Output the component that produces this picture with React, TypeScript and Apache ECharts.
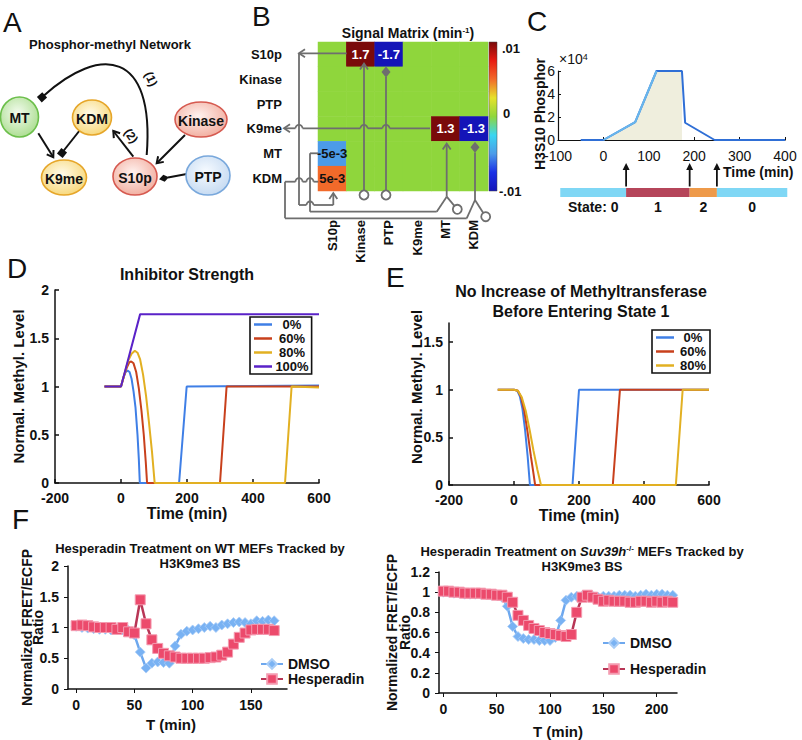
import React, { useEffect, useRef } from 'react';
import * as echarts from 'echarts';

const FONT = '"Liberation Sans", Arial, Helvetica, sans-serif';
const INK = '#111111';
const GREY = '#6e6e6e';

// ---------------- Panel B : signal matrix ----------------
const matrixNames = ['S10p', 'Kinase', 'PTP', 'K9me', 'MT', 'KDM'];
const signalMatrix = [
  [0, 1.7, -1.7, 0, 0, 0],
  [0, 0, 0, 0, 0, 0],
  [0, 0, 0, 0, 0, 0],
  [0, 0, 0, 0, 1.3, -1.3],
  [-5e-3, 0, 0, 0, 0, 0],
  [5e-3, 0, 0, 0, 0, 0],
];
const signalLimit = 0.01;
const colorbarTicks = ['.01', '0', '-.01'];

// ---------------- Panel C : H3S10 phosphorylation ----------------
const phosTime = [-50, 0, 70, 117, 173, 180, 245, 400];
const phosLevel = [0, 0, 1.55, 6, 6, 1.5, 0, 0];
const phosShadeEnd = 173;
const stateNames = ['State: 0', '1', '2', '0'];
const stateStart = [-95, 50, 190, 250];
const stateEnd = [50, 190, 250, 405];
const stateCode = [0, 1, 2, 0];

// ---------------- Panel D : inhibitor strength ----------------
const dNames = ['0%', '60%', '80%', '100%'];
const dTime0 = [-50, 0, 8, 14, 20, 26, 32, 38, 44, 50, 54, 57, 176, 199, 600];
const dLevel0 = [1, 1, 1.1, 1.15, 1.165, 1.15, 1.08, 0.95, 0.78, 0.5, 0.25, 0, 0, 1, 1.01];
const dTime60 = [-50, 0, 10, 18, 25, 31, 38, 46, 54, 62, 69, 75, 79, 300, 320, 600];
const dLevel60 = [1, 1, 1.12, 1.2, 1.25, 1.26, 1.24, 1.15, 0.98, 0.75, 0.5, 0.22, 0, 0, 1, 1];
const dTime80 = [-50, 0, 12, 22, 32, 42, 50, 58, 67, 76, 85, 94, 102, 497, 517, 600];
const dLevel80 = [1, 1, 1.15, 1.27, 1.34, 1.37, 1.35, 1.28, 1.12, 0.9, 0.62, 0.32, 0, 0, 1, 0.99];
const dTime100 = [-50, 0, 58, 600];
const dLevel100 = [1, 1, 1.75, 1.75];

// ---------------- Panel E : no MT increase ----------------
const eNames = ['0%', '60%', '80%'];
const eTime0 = [-50, 0, 10, 18, 26, 34, 42, 49, 180, 200, 600];
const eLevel0 = [1, 1, 0.99, 0.93, 0.8, 0.58, 0.3, 0, 0, 1, 1];
const eTime60 = [-50, 0, 12, 22, 32, 42, 52, 60, 65, 304, 326, 600];
const eLevel60 = [1, 1, 0.99, 0.92, 0.77, 0.55, 0.3, 0.12, 0, 0, 1, 1];
const eTime80 = [-50, 0, 12, 24, 36, 48, 60, 72, 83, 498, 519, 600];
const eLevel80 = [1, 1, 0.99, 0.92, 0.78, 0.58, 0.36, 0.16, 0, 0, 1, 1];

// ---------------- Panel F : Hesperadin experiments ----------------
const fTimeWT = [0, 5, 10, 15, 20, 25, 30, 35, 40, 45, 50, 55, 60, 65, 70, 75, 80, 85, 90, 95, 100, 105, 110, 115, 120, 125, 130, 135, 140, 145, 150, 155, 160, 165, 170];
const dmsoWT = [1.02, 1.0, 0.99, 0.98, 0.97, 0.97, 0.96, 0.97, 0.96, 0.95, 0.88, 0.6, 0.34, 0.42, 0.44, 0.43, 0.42, 0.7, 0.89, 0.94, 0.96, 0.98, 1.0, 1.02, 1.0, 1.04, 1.06, 1.08, 1.09, 1.08, 1.06, 1.11, 1.1, 1.12, 1.11];
const hespWT = [1.03, 1.04, 1.03, 1.01, 1.0, 1.0, 1.0, 0.97, 1.0, 0.93, 0.91, 1.45, 1.06, 0.8, 0.66, 0.58, 0.54, 0.52, 0.5, 0.5, 0.5, 0.5, 0.5, 0.51, 0.52, 0.55, 0.6, 0.73, 0.84, 0.91, 0.96, 0.97, 0.97, 0.97, 0.95];
const fTimeSuv = [0, 5, 10, 15, 20, 25, 30, 35, 40, 45, 50, 55, 60, 65, 70, 75, 80, 85, 90, 95, 100, 105, 110, 115, 120, 125, 130, 135, 140, 145, 150, 155, 160, 165, 170, 175, 180, 185, 190, 195, 200, 205, 210, 215];
const dmsoSuv = [1.0, 1.0, 0.99, 0.99, 0.98, 0.98, 0.98, 0.98, 0.98, 0.97, 0.97, 0.95, 0.86, 0.66, 0.56, 0.54, 0.53, 0.53, 0.52, 0.52, 0.52, 0.55, 0.72, 0.92, 0.95, 0.96, 0.96, 0.96, 0.96, 0.95, 0.96, 0.96, 0.96, 0.97, 0.97, 0.97, 0.96, 0.97, 0.98, 0.97, 0.98, 0.98, 0.97, 0.97];
const hespSuv = [1.01, 1.01, 1.0, 1.0, 0.99, 0.99, 0.99, 0.99, 0.98, 0.98, 0.97, 0.97, 0.95, 0.9, 0.77, 0.72, 0.67, 0.64, 0.62, 0.6, 0.59, 0.58, 0.57, 0.56, 0.58, 0.8, 0.95, 0.97, 0.95, 0.93, 0.91, 0.92, 0.91, 0.91, 0.91, 0.9, 0.9, 0.91, 0.91, 0.9, 0.91, 0.9, 0.91, 0.9];
const fNames = ['DMSO', 'Hesperadin'];

// ---------------- styling constants ----------------
const heatColors = ['#1414b8', '#1a30e6', '#4c9be8', '#39d6f2', '#8fd63c', '#e6e22a', '#f26a2a', '#e81c12', '#7a0a0a'];
const stateColors = ['#7fd7f5', '#b5455a', '#ee9a4a'];
const dColors = ['#3f7fe6', '#c8401c', '#e2b022', '#5a22c8'];

type Pt = [number, number];
const pairs = (xs: number[], ys: number[]): Pt[] => xs.map((x, i) => [x, ys[i]] as Pt);

// ---------- drawing helpers for the diagram panels ----------
const unit = (a: Pt, b: Pt): Pt => {
  const dx = b[0] - a[0];
  const dy = b[1] - a[1];
  const l = Math.hypot(dx, dy) || 1;
  return [dx / l, dy / l];
};
const gl = (x1: number, y1: number, x2: number, y2: number, stroke = GREY, lw = 1.8) => ({
  type: 'line', z: 50, shape: { x1, y1, x2, y2 }, style: { stroke, lineWidth: lw },
});
const chevron = (tip: Pt, d: Pt, stroke: string, lw: number, len = 6, half = 4) => {
  const p: Pt = [-d[1], d[0]];
  return {
    type: 'polyline', z: 51,
    shape: { points: [[tip[0] - len * d[0] + half * p[0], tip[1] - len * d[1] + half * p[1]], tip, [tip[0] - len * d[0] - half * p[0], tip[1] - len * d[1] - half * p[1]]] },
    style: { stroke, lineWidth: lw, fill: null },
  };
};
const diamond = (c: Pt, d: Pt, fill: string, len = 5.5, half = 4.5) => {
  const p: Pt = [-d[1], d[0]];
  return {
    type: 'polygon', z: 51,
    shape: { points: [[c[0] + len * d[0], c[1] + len * d[1]], [c[0] + half * p[0], c[1] + half * p[1]], [c[0] - len * d[0], c[1] - len * d[1]], [c[0] - half * p[0], c[1] - half * p[1]]] },
    style: { fill },
  };
};
const square = (c: Pt, d: Pt, fill: string, s = 3.6) => {
  const p: Pt = [-d[1], d[0]];
  return {
    type: 'polygon', z: 51,
    shape: { points: [[c[0] + s * d[0] + s * p[0], c[1] + s * d[1] + s * p[1]], [c[0] + s * d[0] - s * p[0], c[1] + s * d[1] - s * p[1]], [c[0] - s * d[0] - s * p[0], c[1] - s * d[1] - s * p[1]], [c[0] - s * d[0] + s * p[0], c[1] - s * d[1] + s * p[1]]] },
    style: { fill },
  };
};
const hopLine = (xa: number, xb: number, y: number, hops: number[], r = 3.5) => {
  const lo = Math.min(xa, xb);
  const hi = Math.max(xa, xb);
  const hs = hops.filter((h) => h > lo && h < hi).sort((a, b) => a - b);
  const els: any[] = [];
  let cur = lo;
  hs.forEach((h) => {
    els.push(gl(cur, y, h - r, y));
    els.push({ type: 'arc', z: 50, shape: { cx: h, cy: y, r, startAngle: Math.PI, endAngle: 2 * Math.PI, clockwise: true }, style: { stroke: GREY, lineWidth: 1.8, fill: null } });
    cur = h + r;
  });
  els.push(gl(cur, y, hi, y));
  return els;
};
const ring = (cx: number, cy: number, r = 4.5) => ({
  type: 'circle', z: 51, shape: { cx, cy, r }, style: { stroke: GREY, lineWidth: 1.8, fill: '#ffffff' },
});
const txt = (text: string, x: number, y: number, font: string, align = 'left', vAlign = 'middle', extra: any = {}) => ({
  type: 'text', z: 60, style: { text, x, y, font, fill: INK, align, verticalAlign: vAlign, ...extra },
});

function panelAGraphics(): any[] {
  const tones: Record<string, { stroke: string; inner: string; outer: string }> = {
    green: { stroke: '#6cbf4b', inner: '#f3fbee', outer: '#a3da85' },
    amber: { stroke: '#e6a62a', inner: '#fffbea', outer: '#f6d36c' },
    red: { stroke: '#d65a50', inner: '#fff2ef', outer: '#f0a595' },
    blue: { stroke: '#79a8dc', inner: '#f7fbff', outer: '#bfd6f0' },
  };
  const nodes = [
    { label: 'MT', cx: 19.5, cy: 117, rx: 19, ry: 20, tone: 'green' },
    { label: 'KDM', cx: 92, cy: 117.5, rx: 19.5, ry: 17.5, tone: 'amber' },
    { label: 'K9me', cx: 64, cy: 177.5, rx: 22.5, ry: 17.5, tone: 'amber' },
    { label: 'S10p', cx: 135, cy: 176.5, rx: 22, ry: 18.5, tone: 'red' },
    { label: 'Kinase', cx: 201, cy: 119.5, rx: 26, ry: 17.5, tone: 'red' },
    { label: 'PTP', cx: 208, cy: 175.5, rx: 22, ry: 19.5, tone: 'blue' },
  ];
  const els: any[] = [];
  nodes.forEach((n) => {
    const t = tones[n.tone];
    els.push({
      type: 'ellipse', z: 52, shape: { cx: n.cx, cy: n.cy, rx: n.rx, ry: n.ry },
      style: {
        fill: new echarts.graphic.RadialGradient(0.45, 0.4, 0.7, [{ offset: 0, color: t.inner }, { offset: 1, color: t.outer }]),
        stroke: t.stroke, lineWidth: 1.6,
      },
    });
    els.push({ ...txt(n.label, n.cx, n.cy + 1, `bold 14px ${FONT}`, 'center'), z: 53 });
  });
  const K = '#111111';
  const arrow = (a: Pt, b: Pt) => [gl(a[0], a[1], b[0], b[1], K, 2), chevron(b, unit(a, b), K, 2, 6, 4)];
  els.push(...arrow([38.3, 133.3], [53.3, 157.3]));
  els.push(...arrow([133.3, 156.7], [113.3, 131]));
  els.push(...arrow([185, 135], [156.7, 163.3]));
  els.push(gl(80, 130, 63, 151.5, K, 2), square([62, 153], unit([80, 130], [62, 153]), K));
  els.push(gl(186.7, 174, 168, 177.5, K, 2), diamond([164, 178.3], unit([186.7, 174], [164, 178.3]), K, 5, 3.6));
  const c = { x1: 146.7, y1: 155, cpx1: 155, cpy1: 50, cpx2: 100, cpy2: 45, x2: 44, y2: 95.5 };
  els.push({ type: 'bezierCurve', z: 50, shape: c, style: { stroke: K, lineWidth: 2, fill: null } });
  els.push(square([42, 97.3], unit([c.cpx2, c.cpy2], [c.x2, c.y2]), K));
  els.push({ type: 'text', z: 60, x: 151, y: 79, rotation: -1.15, style: { text: '(1)', x: 0, y: 0, font: `bold 12px ${FONT}`, fill: K, align: 'center', verticalAlign: 'middle' } });
  els.push({ type: 'text', z: 60, x: 131, y: 136, rotation: -0.95, style: { text: '(2)', x: 0, y: 0, font: `bold 12px ${FONT}`, fill: K, align: 'center', verticalAlign: 'middle' } });
  return els;
}

function panelBGraphics(): any[] {
  const els: any[] = [];
  const up: Pt = [0, -1];
  const left: Pt = [-1, 0];
  // S10p row output -> S10p column input
  els.push(gl(346.7, 53.3, 299, 53.3), chevron([299, 53.3], left, GREY, 1.8));
  els.push(gl(299, 53.3, 299, 205));
  els.push(...hopLine(299, 333.3, 205, [310]));
  els.push(gl(333.3, 205, 333.3, 193.5), chevron([333.3, 193], up, GREY, 1.8));
  // MT row output -> MT column
  els.push(gl(318.3, 153.3, 310, 153.3), gl(310, 153.3, 310, 211.7), gl(310, 211.7, 436.7, 211.7), gl(436.7, 211.7, 446.7, 196.7));
  // KDM row output -> KDM column
  els.push(...hopLine(318.3, 285, 181.7, [310, 299]));
  els.push(gl(285, 181.7, 285, 218.3), gl(285, 218.3, 466.7, 218.3), gl(466.7, 218.3, 475, 200));
  // K9me row output
  els.push(...hopLine(430, 285, 128.3, [299, 364, 386]));
  els.push(chevron([284, 128.3], left, GREY, 1.8));
  // Kinase column
  els.push(ring(364, 195), gl(364, 190.5, 364, 64), chevron([364, 63.5], up, GREY, 1.8));
  // PTP column
  els.push(ring(386, 195), gl(386, 190.5, 386, 77), diamond([386, 72], up, GREY));
  // MT column
  els.push(gl(446.7, 196.7, 446.7, 144), chevron([446.7, 143.5], up, GREY, 1.8));
  els.push(gl(446.7, 196.7, 454.4, 205.9), ring(457.3, 209.3));
  // KDM column
  els.push(gl(475, 200, 475, 152.5), diamond([475, 147.2], up, GREY));
  els.push(gl(475, 200, 483.3, 212.9), ring(485.7, 216.7));
  // colour bar
  const stops = heatColors.map((col, i) => ({ offset: 1 - i / (heatColors.length - 1), color: col }));
  els.push({ type: 'rect', z: 40, shape: { x: 489, y: 42, width: 8, height: 149 }, style: { fill: new echarts.graphic.LinearGradient(0, 0, 0, 1, stops.reverse()), stroke: '#444', lineWidth: 0.5 } });
  els.push(txt(colorbarTicks[0], 502, 48, `bold 13px ${FONT}`));
  els.push(txt(colorbarTicks[1], 503, 113, `bold 13px ${FONT}`));
  els.push(txt(colorbarTicks[2], 499, 191, `bold 13px ${FONT}`));
  return els;
}

function buildOption(): any {
  const labelFmt = (v: number) => (v === 0 ? '' : Math.abs(v) >= 0.1 ? String(v) : v.toExponential(0));
  const heatData: any[] = [];
  signalMatrix.forEach((row, r) => row.forEach((v, c) => {
    heatData.push({
      value: [c, r, Math.max(-signalLimit, Math.min(signalLimit, v)), v],
      label: { color: Math.abs(v) >= 0.1 ? '#ffffff' : '#111111' },
    });
  }));

  const phosPts = pairs(phosTime, phosLevel);
  const shadePts = phosPts.filter((p) => p[0] >= 0 && p[0] <= phosShadeEnd);
  const peakIdx = phosLevel.indexOf(Math.max(...phosLevel));
  const risePts = phosPts.slice(1, peakIdx + 1);

  const boldTick = { fontSize: 14, fontWeight: 'bold', color: INK, fontFamily: FONT };
  const blackLine = (w = 1.5) => ({ show: true, onZero: false, lineStyle: { color: INK, width: w } });
  const nameStyle = (size: number, extra: any = {}) => ({ fontSize: size, fontWeight: 'bold', color: INK, fontFamily: FONT, ...extra });
  const titleStyle = (size: number, lh?: number) => ({ fontSize: size, fontWeight: 'bold', color: INK, fontFamily: FONT, lineHeight: lh });
  const sup = { fontSize: 8, fontWeight: 'bold', color: INK, fontFamily: FONT, verticalAlign: 'top', lineHeight: 10 };
  const nm = { nameLocation: 'middle', nameMoveOverlap: false };

  const dData = [pairs(dTime0, dLevel0), pairs(dTime60, dLevel60), pairs(dTime80, dLevel80), pairs(dTime100, dLevel100)];
  const eData = [pairs(eTime0, eLevel0), pairs(eTime60, eLevel60), pairs(eTime80, eLevel80)];

  const lineLegend = (names: string[], left: number, top: number, textW: number) => ({
    data: names, left, top, orient: 'vertical', icon: 'rect', itemWidth: 18, itemHeight: 2.5, itemGap: 1,
    padding: [1, 3, 1, 4], borderColor: INK, borderWidth: 1.6, backgroundColor: '#ffffff', selectedMode: false,
    formatter: (n: string) => `{a|${n}}`,
    textStyle: { rich: { a: { width: textW, align: 'center', fontSize: 13, fontWeight: 'bold', color: INK, fontFamily: FONT, lineHeight: 15 } } },
  });
  const markerLegend = (left: number, top: number, gap: number) => ({
    data: fNames, left, top, orient: 'vertical', itemWidth: 22, itemHeight: 12, itemGap: gap, selectedMode: false,
    textStyle: { fontSize: 14, fontWeight: 'bold', color: INK, fontFamily: FONT, lineHeight: 14 },
  });

  const fLine = (name: string, x: number, times: number[], vals: number[]) => name === 'DMSO'
    ? { type: 'line', name, xAxisIndex: x, yAxisIndex: x, data: pairs(times, vals), symbol: 'diamond', symbolSize: 10, lineStyle: { color: '#6ea8ee', width: 2.5 }, itemStyle: { color: '#79b2f3', borderColor: '#a9cdf7', borderWidth: 0.8 }, z: 3 }
    : { type: 'line', name, xAxisIndex: x, yAxisIndex: x, data: pairs(times, vals), symbol: 'rect', symbolSize: 10, lineStyle: { color: '#b83656', width: 2.5 }, itemStyle: { color: '#ec4a6c', borderColor: '#f49bb0', borderWidth: 1 }, z: 4 };

  return {
    animation: false,
    backgroundColor: '#ffffff',
    textStyle: { fontFamily: FONT },
    title: [
      { text: 'Phosphor-methyl Network', left: 110, top: 38, textAlign: 'center', padding: 0, textStyle: titleStyle(13) },
      { text: 'Signal Matrix (min{s|-1})', left: 408, top: 26, textAlign: 'center', padding: 0, textStyle: { ...titleStyle(14), rich: { s: sup } } },
      { text: 'Inhibitor Strength', left: 187, top: 266, textAlign: 'center', padding: 0, textStyle: titleStyle(16) },
      { text: 'No Increase of Methyltransferase\nBefore Entering State 1', left: 581, top: 281, textAlign: 'center', padding: 0, textStyle: titleStyle(16, 20) },
      { text: 'Hesperadin Treatment on WT MEFs Tracked by\nH3K9me3 BS', left: 200, top: 541, textAlign: 'center', padding: 0, textStyle: titleStyle(13, 15) },
      {
        text: 'Hesperadin Treatment on {i|Suv39h}{s|-/-} MEFs Tracked by\nH3K9me3 BS', left: 582, top: 544, textAlign: 'center', padding: 0,
        textStyle: { ...titleStyle(13, 15), rich: { i: { fontSize: 13, fontWeight: 'bold', fontStyle: 'italic', color: INK, fontFamily: FONT, lineHeight: 15 }, s: sup } },
      },
    ],
    legend: [
      lineLegend(dNames, 250, 317, 30),
      lineLegend(eNames, 652, 330, 28),
      markerLegend(255, 652, 1),
      markerLegend(597, 631, 12),
    ],
    grid: [
      { left: 558, top: 71, width: 227, height: 69 },
      { left: 558, top: 188, width: 227, height: 9 },
      { left: 318, top: 42, width: 170, height: 149 },
      { left: 55, top: 290, width: 264, height: 193 },
      { left: 449, top: 323, width: 260, height: 162 },
      { left: 68, top: 566, width: 219, height: 123 },
      { left: 439, top: 572, width: 238, height: 121 },
    ],
    xAxis: [
      { gridIndex: 0, type: 'value', min: -100, max: 400, interval: 100, axisLine: blackLine(1.2), axisTick: { inside: true, length: 3, lineStyle: { color: INK } }, axisLabel: { fontSize: 14, color: INK, margin: 9 }, splitLine: { show: false } },
      { gridIndex: 1, type: 'value', min: -100, max: 400, show: false },
      { gridIndex: 2, type: 'category', data: matrixNames, axisLine: { show: false }, axisTick: { show: false }, axisLabel: { rotate: 90, margin: 29, fontSize: 13, fontWeight: 'bold', color: INK }, splitLine: { show: false } },
      { gridIndex: 3, type: 'value', min: -200, max: 600, interval: 200, name: 'Time (min)', ...nm, nameGap: 22, nameTextStyle: nameStyle(16), axisLine: blackLine(), axisTick: { inside: true, length: 4, lineStyle: { color: INK, width: 1.5 } }, axisLabel: { ...boldTick, margin: 8 }, splitLine: { show: false } },
      { gridIndex: 4, type: 'value', min: -200, max: 600, interval: 200, name: 'Time (min)', ...nm, nameGap: 22, nameTextStyle: nameStyle(16), axisLine: blackLine(), axisTick: { inside: true, length: 4, lineStyle: { color: INK, width: 1.5 } }, axisLabel: { ...boldTick, margin: 8 }, splitLine: { show: false } },
      { gridIndex: 5, type: 'value', min: -7, max: 181, name: 'T (min)', ...nm, nameGap: 28, nameTextStyle: nameStyle(15, { padding: [0, 13, 0, 0] }), axisLine: blackLine(1.5), axisTick: { length: 4, customValues: [0, 50, 100, 150], lineStyle: { color: INK } }, axisLabel: { ...boldTick, margin: 9, customValues: [0, 50, 100, 150] }, splitLine: { show: false } },
      { gridIndex: 6, type: 'value', min: -4, max: 219, name: 'T (min)', ...nm, nameGap: 31, nameTextStyle: nameStyle(15), axisLine: blackLine(1.5), axisTick: { length: 4, customValues: [0, 50, 100, 150, 200], lineStyle: { color: INK } }, axisLabel: { ...boldTick, margin: 9, customValues: [0, 50, 100, 150, 200] }, splitLine: { show: false } },
    ],
    yAxis: [
      { gridIndex: 0, type: 'value', min: 0, max: 6, interval: 2, name: 'H3S10 Phosphor', ...nm, nameGap: 11, nameRotate: 90, nameTextStyle: nameStyle(14, { padding: [0, 17, 0, 0] }), axisLine: blackLine(1.2), axisTick: { inside: true, length: 3, lineStyle: { color: INK } }, axisLabel: { fontSize: 14, color: INK, margin: 3 }, splitLine: { show: false } },
      { gridIndex: 1, type: 'value', min: 0, max: 1, show: false },
      { gridIndex: 2, type: 'category', data: matrixNames, inverse: true, axisLine: { show: false }, axisTick: { show: false }, axisLabel: { margin: 36, fontSize: 13, fontWeight: 'bold', color: INK }, splitLine: { show: false } },
      { gridIndex: 3, type: 'value', min: 0, max: 2, interval: 0.5, name: 'Normal. Methyl. Level', ...nm, nameGap: 29, nameRotate: 90, nameTextStyle: nameStyle(15), axisLine: blackLine(), axisTick: { inside: true, length: 4, lineStyle: { color: INK, width: 1.5 } }, axisLabel: { ...boldTick, margin: 6 }, splitLine: { show: false } },
      { gridIndex: 4, type: 'value', min: 0, max: 1.7, name: 'Normal. Methyl. Level', ...nm, nameGap: 25, nameRotate: 90, nameTextStyle: nameStyle(15, { padding: [0, 0, 0, 34] }), axisLine: blackLine(), axisTick: { inside: true, length: 4, customValues: [0, 0.5, 1, 1.5], lineStyle: { color: INK, width: 1.5 } }, axisLabel: { ...boldTick, margin: 6, customValues: [0, 0.5, 1, 1.5] }, splitLine: { show: false } },
      { gridIndex: 5, type: 'value', min: 0, max: 2, interval: 0.5, name: 'Normalized FRET/ECFP\nRatio', ...nm, nameGap: 25, nameRotate: 90, nameTextStyle: nameStyle(14, { lineHeight: 11 }), axisLine: blackLine(1.5), axisTick: { length: 4, lineStyle: { color: INK } }, axisLabel: { ...boldTick, margin: 9 }, splitLine: { show: false } },
      { gridIndex: 6, type: 'value', min: 0, max: 1.2, interval: 0.2, name: 'Normalized FRET/ECFP\nRatio', ...nm, nameGap: 28, nameRotate: 90, nameTextStyle: nameStyle(14, { lineHeight: 13 }), axisLine: blackLine(1.5), axisTick: { length: 4, lineStyle: { color: INK } }, axisLabel: { ...boldTick, margin: 9 }, splitLine: { show: false } },
    ],
    visualMap: { show: false, type: 'continuous', min: -signalLimit, max: signalLimit, dimension: 2, seriesIndex: 4, inRange: { color: heatColors } },
    series: [
      { type: 'line', name: 'phosShade', xAxisIndex: 0, yAxisIndex: 0, data: shadePts, symbol: 'none', lineStyle: { width: 0, opacity: 0 }, areaStyle: { color: '#efeedd', opacity: 1 }, z: 1, silent: true },
      { type: 'line', name: 'phos', xAxisIndex: 0, yAxisIndex: 0, data: phosPts, symbol: 'none', lineStyle: { color: '#2f6fd6', width: 2 }, z: 3, silent: true },
      { type: 'line', name: 'phosRise', xAxisIndex: 0, yAxisIndex: 0, data: risePts, symbol: 'none', lineStyle: { color: '#68b6ec', width: 2 }, z: 4, silent: true },
      {
        type: 'custom', name: 'states', xAxisIndex: 1, yAxisIndex: 1, clip: false, silent: true,
        data: stateStart.map((s, i) => [s, stateEnd[i], stateCode[i]]),
        renderItem: (params: any, api: any) => {
          const i = params.dataIndex;
          const a = api.coord([api.value(0), 1]);
          const b = api.coord([api.value(1), 0]);
          const kids: any[] = [
            { type: 'rect', shape: { x: a[0], y: a[1], width: b[0] - a[0], height: b[1] - a[1] }, style: { fill: stateColors[api.value(2)] } },
            { type: 'text', style: { text: stateNames[i], x: (a[0] + b[0]) / 2, y: b[1] + 10, align: 'center', verticalAlign: 'middle', fontSize: 14, fontWeight: 'bold', fontFamily: FONT, fill: INK } },
          ];
          if (i > 0) {
            const x = a[0];
            const tip = a[1] - 25;
            kids.push({ type: 'line', shape: { x1: x, y1: a[1] - 1.5, x2: x, y2: tip + 5 }, style: { stroke: INK, lineWidth: 1.8 } });
            kids.push({ type: 'polygon', shape: { points: [[x, tip], [x - 3.5, tip + 7], [x + 3.5, tip + 7]] }, style: { fill: INK } });
          }
          return { type: 'group', children: kids };
        },
      },
      {
        type: 'heatmap', name: 'signal', xAxisIndex: 2, yAxisIndex: 2, data: heatData, silent: true,
        label: { show: true, formatter: (p: any) => labelFmt(p.value[3]), fontSize: 13, fontWeight: 'bold', fontFamily: FONT },
        itemStyle: { borderWidth: 0 }, emphasis: { disabled: true },
      },
      ...dData.map((d, i) => ({ type: 'line', name: dNames[i], xAxisIndex: 3, yAxisIndex: 3, data: d, symbol: 'none', lineStyle: { color: dColors[i], width: 2 }, itemStyle: { color: dColors[i] }, z: 3 })),
      ...eData.map((d, i) => ({ type: 'line', name: eNames[i], xAxisIndex: 4, yAxisIndex: 4, data: d, symbol: 'none', lineStyle: { color: dColors[i], width: 2 }, itemStyle: { color: dColors[i] }, z: 3 })),
      fLine('DMSO', 5, fTimeWT, dmsoWT),
      fLine('Hesperadin', 5, fTimeWT, hespWT),
      fLine('DMSO', 6, fTimeSuv, dmsoSuv),
      fLine('Hesperadin', 6, fTimeSuv, hespSuv),
    ],
    graphic: {
      elements: [
        txt('A', 3, 8, `28px ${FONT}`, 'left', 'top'),
        txt('B', 252, 2, `28px ${FONT}`, 'left', 'top'),
        txt('C', 527, 7, `28px ${FONT}`, 'left', 'top'),
        txt('D', 7, 254, `28px ${FONT}`, 'left', 'top'),
        txt('E', 386, 263, `28px ${FONT}`, 'left', 'top'),
        txt('F', 12, 505, `28px ${FONT}`, 'left', 'top'),
        { type: 'text', z: 60, style: { text: '×10{s|4}', x: 559, y: 59, font: `14px ${FONT}`, fill: INK, verticalAlign: 'middle', rich: { s: { fontSize: 9, fontFamily: FONT, fill: INK, verticalAlign: 'top' } } } },
        txt('Time (min)', 723, 172, `bold 14px ${FONT}`),
        ...panelAGraphics(),
        ...panelBGraphics(),
      ],
    },
  };
}

export default function App() {
  const ref = useRef<HTMLDivElement>(null);
  useEffect(() => {
    document.body.style.margin = '0';
    const chart = echarts.init(ref.current as HTMLDivElement, null, { renderer: 'svg' });
    chart.setOption(buildOption());
    return () => chart.dispose();
  }, []);
  return <div ref={ref} style={{ position: 'absolute', left: 0, top: 0, width: 802, height: 740, background: '#fff' }} />;
}
